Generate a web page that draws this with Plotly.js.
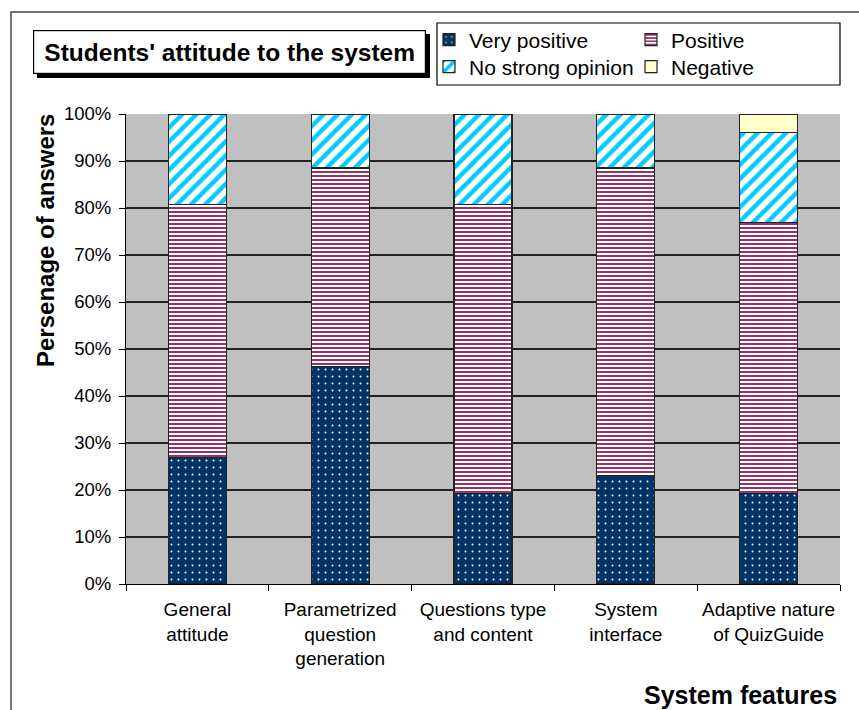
<!DOCTYPE html>
<html>
<head>
<meta charset="utf-8">
<script src="https://cdn.plot.ly/plotly-3.0.1.min.js"></script>
<style>html,body{margin:0;padding:0;background:#fff;}#chart{width:859px;height:710px;}</style>
</head>
<body>
<div id="chart"></div>
<script>
var categories = [
  "General<br>attitude",
  "Parametrized<br>question<br>generation",
  "Questions type<br>and content",
  "System<br>interface",
  "Adaptive nature<br>of QuizGuide"
];
var veryPositive   = [26.9, 46.2, 19.2, 23.1, 19.2];
var positive       = [53.8, 42.3, 61.5, 65.4, 57.7];
var noStrongOpinion= [19.2, 11.5, 19.2, 11.5, 19.2];
var negative       = [0, 0, 0, 0, 3.8];
var yTickVals = [0,10,20,30,40,50,60,70,80,90,100];
var yTickText = ["0%","10%","20%","30%","40%","50%","60%","70%","80%","90%","100%"];

var W = 859, H = 710, ML = 126, MR = 19, MT = 114, MB = 126;
var PW = W - ML - MR, PH = H - MT - MB;
function px(x){ return (x - ML) / PW; }
function py(y){ return (H - MB - y) / PH; }

var FONT = "Liberation Sans, Arial, sans-serif";
var outline = {color: "#222", width: 1.2};

var traces = [
  {type: "bar", name: "Very positive", x: categories, y: veryPositive, legend: "legend",
   marker: {color: "#003366", line: outline,
            pattern: {shape: ".", bgcolor: "#003366", fgcolor: "#ffffff", size: 7, solidity: 0.06, fillmode: "replace"}}},
  {type: "bar", name: "Positive", x: categories, y: positive, legend: "legend2",
   marker: {color: "#ffffff", line: outline,
            pattern: {shape: "-", bgcolor: "#ffffff", fgcolor: "#993366", size: 4, solidity: 0.5, fillmode: "replace"}}},
  {type: "bar", name: "No strong opinion", x: categories, y: noStrongOpinion, legend: "legend3",
   marker: {color: "#ffffff", line: outline,
            pattern: {shape: "/", bgcolor: "#ffffff", fgcolor: "#00CCFF", size: 10, solidity: 0.45, fillmode: "replace"}}},
  {type: "bar", name: "Negative", x: categories, y: negative, legend: "legend4",
   marker: {color: "#FFFFCC", line: outline}}
];

var legendFont = {family: FONT, size: 21, color: "#000"};
function leg(x, y){
  return {x: px(x), y: py(y), xanchor: "left", yanchor: "middle",
          orientation: "v", bgcolor: "rgba(0,0,0,0)", borderwidth: 0,
          font: legendFont, itemwidth: 30};
}
var layout = {
  width: W, height: H,
  margin: {l: ML, r: MR, t: MT, b: MB},
  paper_bgcolor: "#ffffff",
  plot_bgcolor: "#C0C0C0",
  barmode: "stack",
  bargap: 0.594,
  showlegend: true,
  font: {family: FONT, size: 19, color: "#000"},
  xaxis: {
    type: "category",
    tickson: "boundaries",
    ticks: "outside", ticklen: 6, tickcolor: "#000", tickwidth: 1,
    ticklabelstandoff: 8,
    showline: true, linecolor: "#000", linewidth: 1,
    showgrid: false,
    tickfont: {family: FONT, size: 19, color: "#000"},
    fixedrange: true
  },
  yaxis: {
    range: [0, 100],
    tickvals: yTickVals, ticktext: yTickText,
    ticks: "outside", ticklen: 6, tickcolor: "#000",
    ticklabelstandoff: 4,
    showline: true, linecolor: "#000", linewidth: 1,
    showgrid: true, gridcolor: "#222", gridwidth: 1.5,
    zeroline: false,
    tickfont: {family: FONT, size: 18.5, color: "#000"},
    fixedrange: true
  },
  legend: leg(429, 40),
  legend2: leg(631, 40),
  legend3: leg(429, 67),
  legend4: leg(631, 67),
  shapes: [
    {type: "rect", xref: "paper", yref: "paper", x0: px(11), x1: px(880), y0: py(12), y1: py(730),
     line: {color: "#444", width: 1.5}, fillcolor: "rgba(0,0,0,0)", layer: "below"},
    {type: "rect", xref: "paper", yref: "paper", x0: px(37), x1: px(430), y0: py(34), y1: py(78),
     line: {width: 0}, fillcolor: "#000"},
    {type: "rect", xref: "paper", yref: "paper", x0: px(437), x1: px(840), y0: py(23), y1: py(85),
     line: {color: "#000", width: 1.2}, fillcolor: "rgba(0,0,0,0)"}
  ],
  annotations: [
    {text: "<b>Students' attitude to the system</b>", xref: "paper", yref: "paper",
     x: px(33), y: py(30), xanchor: "left", yanchor: "top", showarrow: false,
     width: 389, height: 40, align: "center", valign: "middle",
     bgcolor: "#ffffff", bordercolor: "#000", borderwidth: 1.2, borderpad: 1,
     font: {family: FONT, size: 24.5, color: "#000"}},
    {text: "<b>Persenage of answers</b>", xref: "paper", yref: "paper",
     x: px(45), y: py(241), xanchor: "center", yanchor: "middle", showarrow: false,
     textangle: -90, font: {family: FONT, size: 24, color: "#000"}},
    {text: "<b>System features</b>", xref: "paper", yref: "paper",
     x: px(839), y: py(695), xanchor: "right", yanchor: "middle", showarrow: false,
     font: {family: FONT, size: 25, color: "#000"}}
  ]
};

Plotly.newPlot("chart", traces, layout, {displayModeBar: false, staticPlot: true});
</script>
</body>
</html>
